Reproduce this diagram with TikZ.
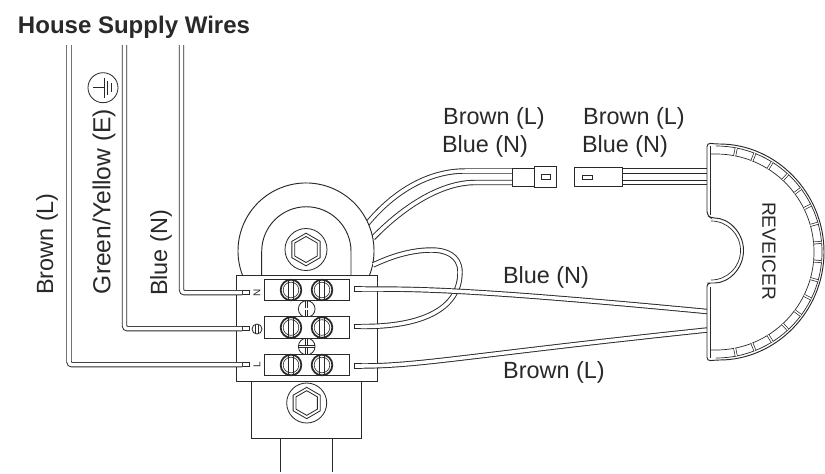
\documentclass[tikz,border=0pt]{standalone}
\usepackage{fontspec}
\setmainfont{Liberation Sans}
\usetikzlibrary{shapes.geometric}
\definecolor{inkcol}{HTML}{2A2829}
\tikzset{
  wirepair/.style={draw=inkcol, line width=.8pt, double=white, double distance=3pt},
  thinpair/.style={draw=inkcol, line width=.6pt, double=white, double distance=1.2pt},
  plainline/.style={draw=inkcol, line width=.8pt},
  box/.style={draw=inkcol, line width=.8pt, fill=white, rectangle, inner sep=0pt, outer sep=0pt},
  hexnut/.style={draw=inkcol, line width=.7pt, regular polygon, regular polygon sides=6, shape border rotate=30, inner sep=0pt},
  boltring/.style={draw=inkcol, line width=.7pt, fill=white, circle, inner sep=0pt},
  screwhead/.style={draw=inkcol, line width=1.5pt, fill=white, circle, inner sep=0pt, minimum size=.62cm,
    path picture={
      \draw [inkcol, line width=.5pt] (path picture bounding box.center) circle (.235cm);
      \draw [inkcol, line width=.7pt] ([xshift=-.075cm]path picture bounding box.north) -- ([xshift=-.075cm]path picture bounding box.south);
      \draw [inkcol, line width=.7pt] ([xshift=.075cm]path picture bounding box.north) -- ([xshift=.075cm]path picture bounding box.south);
    }},
  crosshead/.style={draw=inkcol, line width=.7pt, fill=white, circle, inner sep=0pt, minimum size=.5cm,
    path picture={
      \draw [thinpair] (path picture bounding box.north) -- (path picture bounding box.south);
      \draw [thinpair] (path picture bounding box.west) -- (path picture bounding box.east);
    }},
  label/.style={text=inkcol, inner sep=0pt, font=\fontsize{20}{24}\selectfont},
  tinylabel/.style={text=inkcol, inner sep=0pt, font=\fontsize{8.5}{10}\selectfont}
}
\begin{document}
\begin{tikzpicture}[x=.03cm, y=-.03cm]
\useasboundingbox (0,0) rectangle (825,473);
% text
\node [label, font=\fontsize{20.5}{24}\selectfont\bfseries] (title) at (134,27) {House Supply Wires};
\node [label, rotate=90] (labBrownA) at (47,244) {Brown (L)};
\node [label, rotate=90, font=\fontsize{21}{24}\selectfont] (labGreen) at (104,201.5) {Green/Yellow (E)};
\node [label, rotate=90] (labBlueA) at (161,253) {Blue (N)};
\node [label] (labBrownB) at (494,118) {Brown (L)};
\node [label] (labBlueB) at (485,146) {Blue (N)};
\node [label] (labBrownC) at (634,118) {Brown (L)};
\node [label] (labBlueC) at (625,146) {Blue (N)};
\node [label] (labBlueD) at (546,277) {Blue (N)};
\node [label] (labBrownD) at (554,372) {Brown (L)};
% earth mark
\node [boltring, minimum size=.9cm, fill=none] (earthBig) at (103,87.7) {};
\draw [plainline] (92.7,87.7) -- (104,87.7);
\draw [plainline] (104,77.7) -- (104,98);
\draw [plainline] (107.8,80.7) -- (107.8,95);
\draw [plainline] (111.6,83.3) -- (111.6,92);
% plugs
\coordinate (plugTopA) at (512.3,171);
\coordinate (plugBotA) at (512.3,182.5);
\coordinate (plugTopB) at (622.7,171);
\coordinate (plugBotB) at (622.7,182.5);
\coordinate (recvTop) at (707,171);
\coordinate (recvBot) at (707,182.5);
\coordinate (recvBlue) at (707,311.5);
\coordinate (recvBrown) at (707,330);
\coordinate (bodyTop) at (367,224);
\coordinate (bodyBot) at (373,238);
\coordinate (bodyLoop) at (373,265);
\draw [wirepair] (bodyTop) .. controls (395,190) and (430,171) .. (465,171) -- (plugTopA);
\draw [wirepair] (bodyBot) .. controls (402,208) and (440,182.5) .. (475,182.5) -- (plugBotA);
\draw [wirepair] (plugTopB) -- (recvTop);
\draw [wirepair] (plugBotB) -- (recvBot);
\node [box, minimum width=.666cm, minimum height=.54cm] (sleeveA) at (523.4,177.3) {};
\node [box, minimum width=.66cm, minimum height=.63cm] (headA) at (545.5,177.1) {};
\node [box, minimum width=.27cm, minimum height=.135cm] (slotA) at (545.5,177.2) {};
\node [box, minimum width=1.452cm, minimum height=.585cm] (plugB) at (598.5,176.8) {};
\node [box, minimum width=.3cm, minimum height=.12cm] (slotB) at (587,177) {};
% ring under the terminal block
\draw [plainline, fill=white] (242.4,275) arc (159.3:380.7:68);
\draw [plainline] (261.7,275) -- (261.7,251.4) arc (180:360:44.65) -- (351,275);
\node [boltring, minimum size=1.26cm] (boltTop) at (306,249.5) {};
\node [hexnut, minimum size=.98cm] (hexTopA) at (306,249.5) {};
\node [hexnut, minimum size=.78cm] (hexTopB) at (306,249.5) {};
% lower bracket
\node [box, minimum width=3.32cm, minimum height=1.71cm] (bracket) at (306.4,409.5) {};
\node [boltring, minimum size=1.2cm] (boltLow) at (306.7,403) {};
\node [hexnut, minimum size=.94cm] (hexLowA) at (306.7,403) {};
\node [hexnut, minimum size=.74cm] (hexLowB) at (306.7,403) {};
\coordinate (tailA) at (280,472);
\coordinate (tailB) at (332.7,472);
\draw [plainline] (280,438) -- (tailA);
\draw [plainline] (332.7,438) -- (tailB);
% terminal block
\node [box, minimum width=4.23cm, minimum height=3.18cm] (block) at (306.5,328) {};
\node [crosshead] (crossA) at (306.7,309) {};
\node [crosshead] (crossB) at (306.7,346.5) {};
\node [box, minimum width=2.55cm, minimum height=.64cm] (stripN) at (306.5,289.8) {};
\node [box, minimum width=2.55cm, minimum height=.64cm] (stripE) at (306.5,327.5) {};
\node [box, minimum width=2.55cm, minimum height=.64cm] (stripL) at (306.5,365.2) {};
\node [screwhead] (screwNa) at (291,290) {};
\node [screwhead] (screwNb) at (322,290) {};
\node [screwhead] (screwEa) at (291,327.5) {};
\node [screwhead] (screwEb) at (322,327.5) {};
\node [screwhead] (screwLa) at (291,365) {};
\node [screwhead] (screwLb) at (322,365) {};
\node [tinylabel, rotate=90] (markN) at (257,293) {N};
\node [boltring, minimum size=.3cm, fill=none] (markE) at (257,329) {};
\draw [plainline, line width=.5pt] (255.5,324.5) -- (255.5,333.5);
\draw [plainline, line width=.5pt] (258.5,324.5) -- (258.5,333.5);
\node [tinylabel, rotate=90] (markL) at (257,365) {L};
% pins
\node [box, minimum width=.21cm, minimum height=.135cm] (pinNl) at (245.5,292.7) {};
\node [box, minimum width=.21cm, minimum height=.135cm] (pinEl) at (245.5,328.7) {};
\node [box, minimum width=.21cm, minimum height=.135cm] (pinLl) at (245.5,364.7) {};
\node [box, minimum width=.21cm, minimum height=.135cm] (pinNr) at (357.5,289) {};
\node [box, minimum width=.21cm, minimum height=.135cm] (pinEr) at (357.5,326.5) {};
\node [box, minimum width=.21cm, minimum height=.135cm] (pinLr) at (357.5,366) {};
% house wires
\coordinate (topN) at (181.5,45);
\coordinate (topE) at (124.5,45);
\coordinate (topL) at (69,45);
\draw [wirepair, rounded corners=2.5pt] (topN) -- (181.5,292.7) -- (pinNl.west);
\draw [wirepair, rounded corners=2.5pt] (topE) -- (124.5,328.7) -- (pinEl.west);
\draw [wirepair, rounded corners=2.5pt] (topL) -- (69,364.7) -- (pinLl.west);
% wires to the receiver
\draw [wirepair] (pinEr.east) .. controls (420,327) and (460,310) .. (460,272) .. controls (460,255) and (445,250) .. (432,250) .. controls (410,250) and (390,257) .. (bodyLoop);
\draw [wirepair] (pinNr.east) .. controls (420,289) and (470,289) .. (recvBlue);
\draw [wirepair] (pinLr.east) .. controls (420,366) and (470,355) .. (recvBrown);
% receiver
\draw [plainline, fill=white, rounded corners=3pt] (707,215) -- (707,143) -- (716,144) arc (-90:90:108) -- (707,361) -- (707,283) -- (711,283) arc (90:-90:32.5) -- cycle;
\draw [plainline, line width=.6pt] (710.5,146) -- (710.5,215);
\draw [plainline, line width=.6pt] (710.5,287) -- (710.5,358);
\draw [plainline, line width=.6pt] (710.5,154) -- (716,154) arc (-90:90:98) -- (710.5,350);
\draw [plainline, line width=.6pt] (716,146) arc (-90:90:106);
\draw [plainline, line width=.6pt] (711,280) arc (90:-90:29.5);
\begin{scope}[shift={(716,252)}]
\draw [thinpair] (79:98) -- (79:106);
\draw [thinpair] (68.5:98) -- (68.5:106);
\draw [thinpair] (58:98) -- (58:106);
\draw [thinpair] (47.25:98) -- (47.25:106);
\draw [thinpair] (36.75:98) -- (36.75:106);
\draw [thinpair] (26.25:98) -- (26.25:106);
\draw [thinpair] (15.75:98) -- (15.75:106);
\draw [thinpair] (5.25:98) -- (5.25:106);
\draw [thinpair] (-5.25:98) -- (-5.25:106);
\draw [thinpair] (-15.75:98) -- (-15.75:106);
\draw [thinpair] (-26.25:98) -- (-26.25:106);
\draw [thinpair] (-36.75:98) -- (-36.75:106);
\draw [thinpair] (-47.25:98) -- (-47.25:106);
\draw [thinpair] (-58:98) -- (-58:106);
\draw [thinpair] (-68.5:98) -- (-68.5:106);
\draw [thinpair] (-79:98) -- (-79:106);
\end{scope}
\node [label, rotate=-90, font=\fontsize{16.3}{20}\selectfont] (labRecv) at (769,251) {REVEICER};
\end{tikzpicture}
\end{document}
